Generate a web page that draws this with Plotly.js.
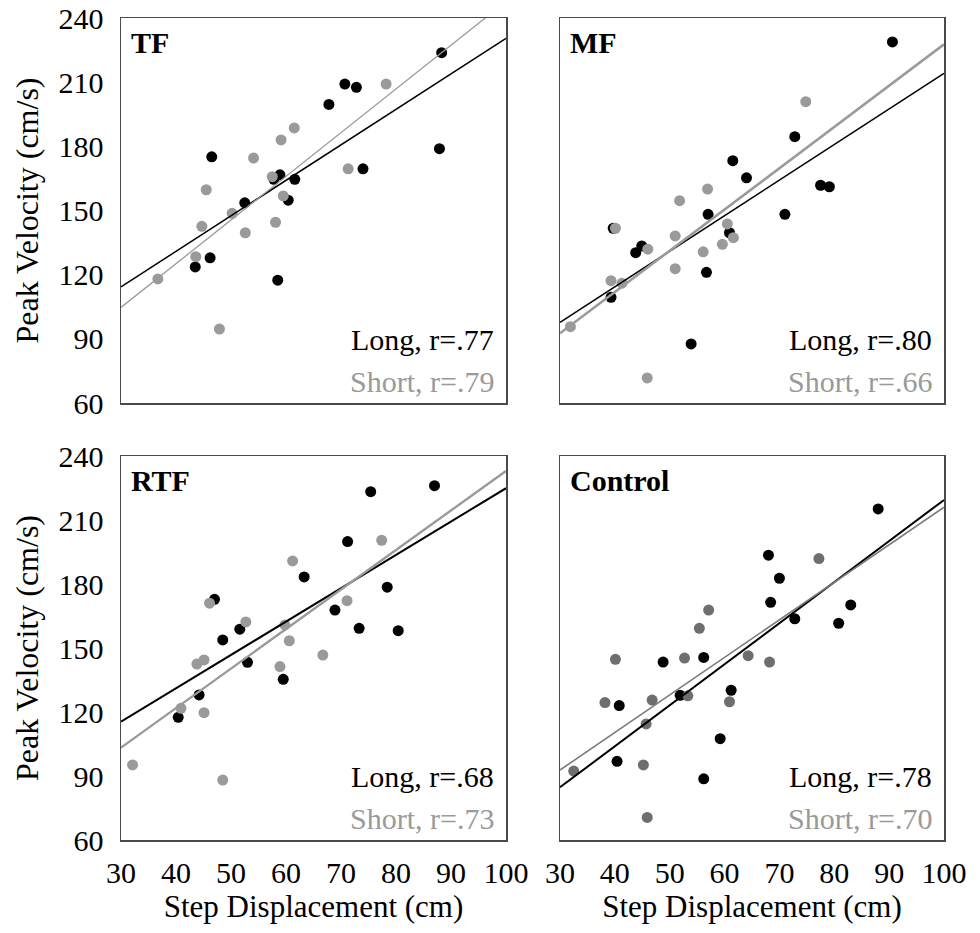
<!DOCTYPE html>
<html>
<head>
<meta charset="utf-8">
<script src="https://cdn.plot.ly/plotly-3.0.1.min.js"></script>
<style>
  html, body { margin: 0; padding: 0; background: #fff; }
  #chart { width: 980px; height: 933px; }
</style>
</head>
<body>
<div id="chart"></div>
<script>
// ---- Data ----
const panelNames = ["TF", "MF", "RTF", "Control"];
const longR = ["Long, r=.77", "Long, r=.80", "Long, r=.68", "Long, r=.78"];
const shortR = ["Short, r=.79", "Short, r=.66", "Short, r=.73", "Short, r=.70"];

const xTicks = [30, 40, 50, 60, 70, 80, 90, 100];
const yTicks = [60, 90, 120, 150, 180, 210, 240];

// TF
const tfLongX  = [88.3, 70.7, 72.8, 67.8, 87.9, 46.5, 74.0, 58.9, 57.8, 61.6, 52.5, 60.4, 46.2, 43.5, 58.5];
const tfLongY  = [223.8, 209.1, 207.6, 199.6, 178.9, 175.1, 169.5, 166.7, 164.6, 164.6, 153.6, 154.8, 127.9, 123.6, 117.4];
const tfShortX = [78.2, 61.5, 59.1, 54.1, 71.3, 57.5, 45.5, 59.5, 50.2, 58.1, 44.7, 52.6, 43.6, 36.7, 47.9];
const tfShortY = [209.1, 188.6, 183.0, 174.5, 169.5, 165.8, 159.7, 156.8, 148.7, 144.5, 142.6, 139.6, 128.4, 118.0, 94.6];

// MF
const mfLongX  = [90.6, 72.8, 61.5, 64.0, 77.5, 79.1, 57.0, 71.0, 39.7, 60.9, 44.9, 43.8, 56.7, 39.3, 53.9];
const mfLongY  = [228.8, 184.5, 173.3, 165.3, 161.8, 161.1, 148.2, 148.2, 141.7, 139.6, 133.4, 130.3, 121.1, 109.4, 87.6];
const mfShortX = [74.8, 56.9, 51.8, 40.1, 60.5, 61.6, 51.0, 59.6, 46.0, 56.1, 51.0, 39.3, 41.3, 31.9, 45.9];
const mfShortY = [200.9, 160.0, 154.6, 141.7, 143.7, 137.3, 138.1, 134.2, 131.9, 130.7, 122.8, 117.2, 116.0, 95.7, 71.7];

// RTF
const rtfLongX  = [87.0, 75.4, 71.2, 63.3, 78.4, 47.0, 68.9, 73.3, 80.4, 51.6, 48.5, 53.0, 59.5, 44.2, 40.4];
const rtfLongY  = [226.1, 223.3, 199.9, 183.3, 178.5, 172.8, 167.8, 159.2, 158.1, 158.8, 153.8, 143.3, 135.3, 128.0, 117.5];
const rtfShortX = [77.4, 61.2, 71.1, 46.1, 52.7, 59.8, 60.6, 43.8, 45.1, 66.7, 58.9, 40.9, 45.1, 32.1, 48.5];
const rtfShortY = [200.5, 190.8, 172.2, 171.0, 162.2, 160.8, 153.4, 142.5, 144.4, 146.7, 141.3, 121.7, 119.7, 95.2, 88.1];

// Control
const ctlLongX  = [88.0, 68.0, 70.0, 68.4, 83.0, 72.8, 80.8, 56.2, 48.8, 61.2, 51.9, 40.8, 59.2, 40.4, 56.2];
const ctlLongY  = [215.2, 193.5, 182.7, 171.4, 170.2, 163.7, 161.6, 145.6, 143.4, 130.2, 127.8, 123.0, 107.5, 96.9, 88.7];
const ctlShortX = [77.2, 57.1, 55.4, 40.1, 52.7, 64.3, 68.2, 38.2, 46.8, 53.3, 60.9, 45.7, 45.2, 32.5, 45.9];
const ctlShortY = [191.9, 167.8, 159.2, 144.7, 145.3, 146.4, 143.4, 124.4, 125.6, 127.6, 124.8, 114.4, 95.2, 92.3, 70.6];

// Fitted trend lines (end points, at x = 30 and x = 100)
const lineX = [30, 100];
const tfLongLine  = [114.3, 230.5];
const tfShortLine = [104.7, 247.7];
const mfLongLine  = [97.7, 214.1];
const mfShortLine = [92.6, 227.7];
const rtfLongLine  = [115.5, 224.9];
const rtfShortLine = [103.3, 233.0];
const ctlLongLine  = [84.7, 219.4];
const ctlShortLine = [92.8, 216.0];

// ---- Build the figure ----
const FONT = "Liberation Serif";
const panels = [
  {ax: "", longX: tfLongX, longY: tfLongY, shortX: tfShortX, shortY: tfShortY,
   longLine: tfLongLine, shortLine: tfShortLine, grey: "#9a9a9a", lineGrey: "#9a9a9a", lw: 1.5, sw: 1.3},
  {ax: "2", longX: mfLongX, longY: mfLongY, shortX: mfShortX, shortY: mfShortY,
   longLine: mfLongLine, shortLine: mfShortLine, grey: "#9a9a9a", lineGrey: "#9a9a9a", lw: 1.6, sw: 2.6},
  {ax: "3", longX: rtfLongX, longY: rtfLongY, shortX: rtfShortX, shortY: rtfShortY,
   longLine: rtfLongLine, shortLine: rtfShortLine, grey: "#9a9a9a", lineGrey: "#9a9a9a", lw: 2, sw: 2.4},
  {ax: "4", longX: ctlLongX, longY: ctlLongY, shortX: ctlShortX, shortY: ctlShortY,
   longLine: ctlLongLine, shortLine: ctlShortLine, grey: "#6e6e6e", lineGrey: "#7a7a7a", lw: 2, sw: 1.6}
];

const traces = [];
panels.forEach(p => {
  const xa = "x" + p.ax, ya = "y" + p.ax;
  traces.push({x: p.longX, y: p.longY, xaxis: xa, yaxis: ya, type: "scatter", mode: "markers",
    marker: {color: "#000", size: 11}, hoverinfo: "x+y", showlegend: false});
  traces.push({x: p.shortX, y: p.shortY, xaxis: xa, yaxis: ya, type: "scatter", mode: "markers",
    marker: {color: p.grey, size: 11}, hoverinfo: "x+y", showlegend: false});
  traces.push({x: lineX, y: p.longLine, xaxis: xa, yaxis: ya, type: "scatter", mode: "lines",
    line: {color: "#000", width: p.lw}, hoverinfo: "skip", showlegend: false});
  traces.push({x: lineX, y: p.shortLine, xaxis: xa, yaxis: ya, type: "scatter", mode: "lines",
    line: {color: p.lineGrey, width: p.sw}, hoverinfo: "skip", showlegend: false});
});

const tickFont = {family: FONT, size: 30, color: "#000"};
const xTitleFont = {family: FONT, size: 31, color: "#000"};
const yTitleFont = {family: FONT, size: 32, color: "#000"};

function xAxis(domain, showLabels, anchor) {
  const a = {domain: domain, range: [30, 100], anchor: anchor, tickvals: xTicks,
    showticklabels: showLabels, ticks: "", showgrid: false, zeroline: false,
    showline: true, mirror: true, linecolor: "#4a4a4a", linewidth: 1.5,
    tickfont: tickFont, ticklabelstandoff: 5, fixedrange: true};
  if (showLabels) a.title = {text: "Step Displacement (cm)", font: xTitleFont, standoff: 8};
  return a;
}
function yAxis(domain, showLabels, anchor) {
  const a = {domain: domain, range: [60, 240], anchor: anchor, tickvals: yTicks,
    showticklabels: showLabels, ticks: "", showgrid: false, zeroline: false,
    showline: true, mirror: true, linecolor: "#4a4a4a", linewidth: 1.5,
    tickfont: tickFont, ticklabelstandoff: 10, fixedrange: true};
  if (showLabels) a.title = {text: "Peak Velocity (cm/s)", font: yTitleFont, standoff: 10};
  return a;
}

const W = 980, H = 933;
const mL = 121, mR = 36, mT = 18, mB = 93;
const pw = W - mL - mR, ph = H - mT - mB;
const leftDom = [0, 385 / pw];
const rightDom = [(560 - mL) / pw, 1];
const topDom = [1 - 385 / ph, 1];
const botDom = [0, 384 / ph];

const annotations = [];
["", "2", "3", "4"].forEach((ax, i) => {
  const xr = "x" + ax + " domain", yr = "y" + ax + " domain";
  annotations.push({xref: xr, yref: yr, x: 0.02, y: 0.985, xanchor: "left", yanchor: "top",
    text: "<b>" + panelNames[i] + "</b>", showarrow: false,
    font: {family: FONT, size: 30, color: "#000"}});
  annotations.push({xref: xr, yref: yr, x: 0.975, y: 0.165, xanchor: "right", yanchor: "middle",
    text: longR[i], showarrow: false, font: {family: FONT, size: 30, color: "#000"}});
  annotations.push({xref: xr, yref: yr, x: 0.975, y: 0.057, xanchor: "right", yanchor: "middle",
    text: shortR[i], showarrow: false, font: {family: FONT, size: 30, color: "#9a9a9a"}});
});

const layout = {
  width: W, height: H,
  margin: {l: mL, r: mR, t: mT, b: mB},
  paper_bgcolor: "#fff", plot_bgcolor: "#fff",
  font: {family: FONT, color: "#000"},
  showlegend: false,
  xaxis:  xAxis(leftDom, false, "y"),
  yaxis:  yAxis(topDom, true, "x"),
  xaxis2: xAxis(rightDom, false, "y2"),
  yaxis2: yAxis(topDom, false, "x2"),
  xaxis3: xAxis(leftDom, true, "y3"),
  yaxis3: yAxis(botDom, true, "x3"),
  xaxis4: xAxis(rightDom, true, "y4"),
  yaxis4: yAxis(botDom, false, "x4"),
  annotations: annotations
};

Plotly.newPlot("chart", traces, layout, {displayModeBar: false, staticPlot: true});
</script>
</body>
</html>
